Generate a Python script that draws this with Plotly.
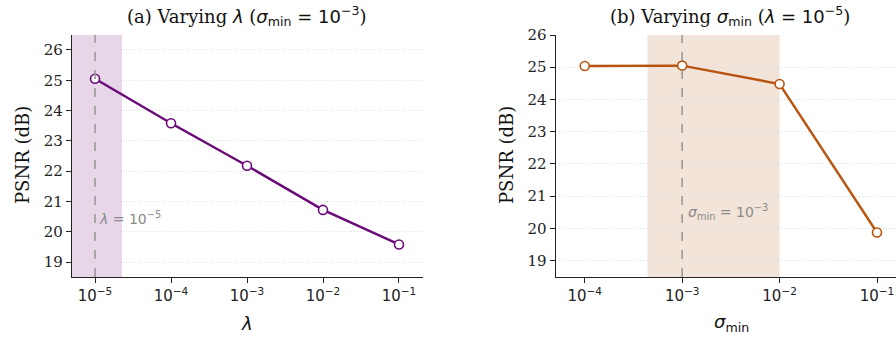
import numpy as np
import plotly.graph_objects as go

# ---- data ----
lam_vals = [1e-5, 1e-4, 1e-3, 1e-2, 1e-1]
lam_psnr = [25.05, 23.58, 22.18, 20.72, 19.58]
sig_vals = [1e-4, 1e-3, 1e-2, 1e-1]
sig_psnr = [25.04, 25.05, 24.48, 19.87]
y_ticks = [19, 20, 21, 22, 23, 24, 25, 26]
lam_ticks = [1e-5, 1e-4, 1e-3, 1e-2, 1e-1]
lam_ticklabels = ["10<sup>−5</sup>", "10<sup>−4</sup>", "10<sup>−3</sup>", "10<sup>−2</sup>", "10<sup>−1</sup>"]
sig_ticks = [1e-4, 1e-3, 1e-2, 1e-1]
sig_ticklabels = ["10<sup>−4</sup>", "10<sup>−3</sup>", "10<sup>−2</sup>", "10<sup>−1</sup>"]
lam_best = 1e-5
sig_best = 1e-3
lam_band = [10 ** -5.303, 10 ** -4.645]
sig_band = [10 ** -3.356, 1e-2]

PURPLE = "#6a0a78"
ORANGE = "#b8540f"
PURPLE_BAND = "#e6d6e7"
ORANGE_BAND = "#f2e4d9"
W, H = 896, 337
SERIF = "DejaVu Serif"
SANS = "DejaVu Sans"

fig = go.Figure()

fig.add_trace(go.Scatter(
    x=lam_vals, y=lam_psnr, mode="lines+markers", xaxis="x", yaxis="y",
    line=dict(color=PURPLE, width=2.4),
    marker=dict(size=9, color="white", line=dict(color=PURPLE, width=1.6)),
    showlegend=False))
fig.add_trace(go.Scatter(
    x=sig_vals, y=sig_psnr, mode="lines+markers", xaxis="x2", yaxis="y2",
    line=dict(color=ORANGE, width=2.4),
    marker=dict(size=9, color="white", line=dict(color=ORANGE, width=1.6)),
    showlegend=False))

ydom = [1 - 277 / H, 1 - 35 / H]
common_y = dict(
    tickvals=y_ticks, ticks="outside", ticklen=5, tickwidth=1.2, tickcolor="#222",
    showline=True, linecolor="#222", linewidth=1.4,
    showgrid=True, gridcolor="#dcdcdc", gridwidth=0.9, griddash="1px,2px",
    zeroline=False, tickfont=dict(family=SERIF, size=15, color="#222"),
    domain=ydom, automargin=False,
)
common_x = dict(
    type="log", ticks="outside", ticklen=5, tickwidth=1.2, tickcolor="#222",
    showline=True, linecolor="#222", linewidth=1.4, showgrid=False,
    zeroline=False, tickfont=dict(family=SANS, size=15, color="#222"),
    automargin=False,
)

fig.update_layout(
    width=W, height=H, margin=dict(l=0, r=0, t=0, b=0, autoexpand=False),
    plot_bgcolor="white", paper_bgcolor="white",
    xaxis=dict(common_x, domain=[72 / W, 423 / W], range=[-5.303, -0.684],
               tickvals=lam_ticks, ticktext=lam_ticklabels, anchor="y"),
    yaxis=dict(common_y, range=[18.505, 26.495], anchor="x"),
    xaxis2=dict(common_x, domain=[555.7 / W, 1.0], range=[-4.298, -0.805],
                tickvals=sig_ticks, ticktext=sig_ticklabels, anchor="y2"),
    yaxis2=dict(common_y, range=[18.49, 26.0], anchor="x2"),
)

# shaded bands
fig.add_shape(type="rect", xref="x", yref="y domain", x0=lam_band[0], x1=lam_band[1],
              y0=0, y1=1, fillcolor=PURPLE_BAND, line=dict(width=0), layer="below")
fig.add_shape(type="rect", xref="x2", yref="y2 domain", x0=sig_band[0], x1=sig_band[1],
              y0=0, y1=1, fillcolor=ORANGE_BAND, line=dict(width=0), layer="below")
# dashed reference lines
fig.add_shape(type="line", xref="x", yref="y domain", x0=lam_best, x1=lam_best, y0=0, y1=1,
              line=dict(color="#9a9a9a", width=1.6, dash="dash"), layer="above")
fig.add_shape(type="line", xref="x2", yref="y2 domain", x0=sig_best, x1=sig_best, y0=0, y1=1,
              line=dict(color="#9a9a9a", width=1.6, dash="dash"), layer="above")

# in-plot labels
fig.add_annotation(xref="paper", yref="paper", x=97 / W, y=1 - 218 / H, xanchor="left", yanchor="middle",
                   text="<i>λ</i> = 10<sup>−5</sup>", showarrow=False,
                   font=dict(family=SANS, size=14, color="#8a8a8a"))
fig.add_annotation(xref="paper", yref="paper", x=686 / W, y=1 - 212 / H, xanchor="left", yanchor="middle",
                   text="<i>σ</i><sub>min</sub> = 10<sup>−3</sup>", showarrow=False,
                   font=dict(family=SANS, size=14, color="#8a8a8a"))

# titles
fig.add_annotation(xref="paper", yref="paper", x=247 / W, y=1 - 16 / H, xanchor="center", yanchor="middle",
                   text="(a) Varying <span style='font-family:DejaVu Sans'><i>λ</i></span> (<span style='font-family:DejaVu Sans'><i>σ</i><sub>min</sub> = 10<sup>−3</sup></span>)",
                   showarrow=False, font=dict(family=SERIF, size=18, color="#111"))
fig.add_annotation(xref="paper", yref="paper", x=730 / W, y=1 - 16 / H, xanchor="center", yanchor="middle",
                   text="(b) Varying <span style='font-family:DejaVu Sans'><i>σ</i><sub>min</sub></span> (<span style='font-family:DejaVu Sans'><i>λ</i> = 10<sup>−5</sup></span>)",
                   showarrow=False, font=dict(family=SERIF, size=18, color="#111"))

# axis titles
fig.add_annotation(xref="paper", yref="paper", x=22 / W, y=1 - 155 / H, textangle=-90,
                   xanchor="center", yanchor="middle", text="PSNR (dB)", showarrow=False,
                   font=dict(family=SERIF, size=18, color="#111"))
fig.add_annotation(xref="paper", yref="paper", x=506 / W, y=1 - 155 / H, textangle=-90,
                   xanchor="center", yanchor="middle", text="PSNR (dB)", showarrow=False,
                   font=dict(family=SERIF, size=18, color="#111"))
fig.add_annotation(xref="paper", yref="paper", x=247 / W, y=1 - 323 / H, xanchor="center", yanchor="middle",
                   text="<i>λ</i>", showarrow=False, font=dict(family=SANS, size=18, color="#111"))
fig.add_annotation(xref="paper", yref="paper", x=731 / W, y=1 - 323 / H, xanchor="center", yanchor="middle",
                   text="<i>σ</i><sub>min</sub>", showarrow=False, font=dict(family=SANS, size=18, color="#111"))

fig.write_html("out.html")
